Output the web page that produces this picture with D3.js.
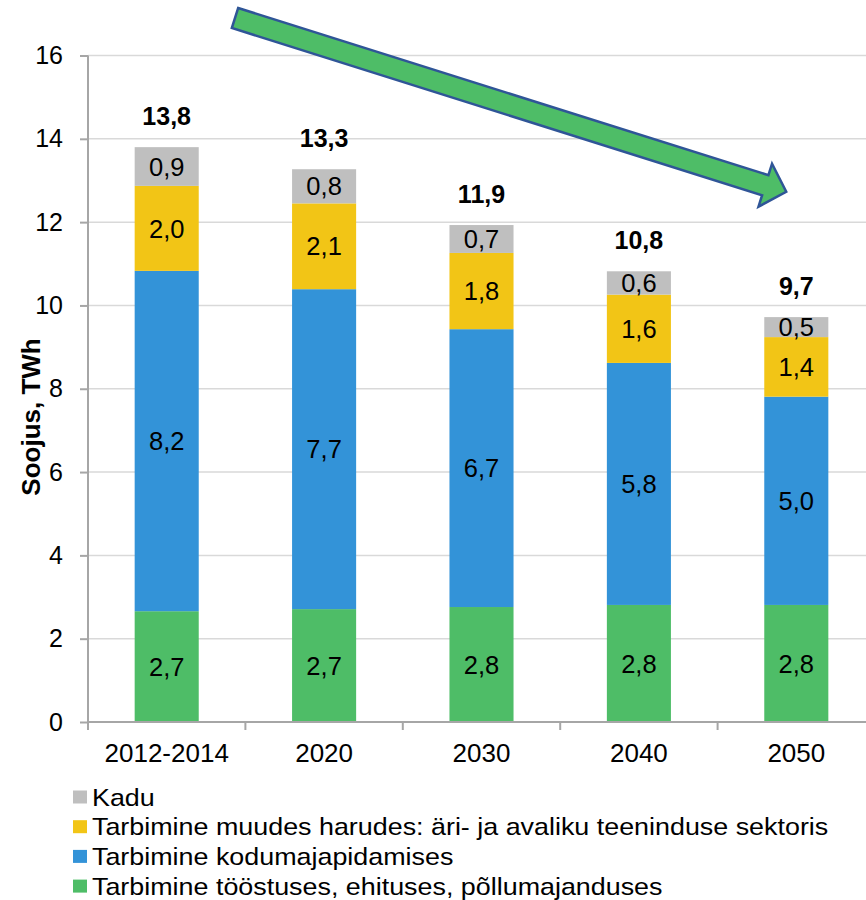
<!DOCTYPE html>
<html>
<head>
<meta charset="utf-8">
<script src="https://cdn.jsdelivr.net/npm/d3@7"></script>
<style>
	body { margin: 0; background: #fff; }
	svg { display: block; font-family: 'Liberation Sans', Arial, sans-serif; }
	.grid-line { stroke: #d9d9d9; stroke-width: 1.5; }
	.axis-line { stroke: #a6a6a6; stroke-width: 2; }
</style>
</head>
<body>
<div class="chart"></div>
<script>
// chart values
const years = ['2012-2014', '2020', '2030', '2040', '2050'];
const industry = [2.66, 2.71, 2.76, 2.81, 2.81];
const households = [8.17, 7.68, 6.67, 5.81, 5.00];
const services = [2.04, 2.06, 1.83, 1.64, 1.43];
const losses = [0.93, 0.82, 0.67, 0.56, 0.48];
const yTicks = [0, 2, 4, 6, 8, 10, 12, 14, 16];

const seriesNames = [
	'Tarbimine tööstuses, ehituses, põllumajanduses',
	'Tarbimine kodumajapidamises',
	'Tarbimine muudes harudes: äri- ja avaliku teeninduse sektoris',
	'Kadu'
];
const seriesColors = ['#4ebd67', '#3393d8', '#f2c516', '#bfbfbf'];

const width = 866, height = 900;
const margin = { top: 55.5, left: 88, bottom: 178 };

let svg = d3.select('.chart').append('svg')
	.attr('width', width)
	.attr('height', height);

svg.append('rect').attr('width', width).attr('height', height).attr('fill', '#fff');

//scales
let x = d3.scaleBand()
	.domain(years)
	.range([margin.left, margin.left + 5 * 157.4])
	.paddingInner(0.593)
	.paddingOuter(0.2965);

let y = d3.scaleLinear()
	.domain([0, 16])
	.range([height - margin.bottom, margin.top]);

// stack the four series
let rows = years.map((d, i) => ({
	year: d, s0: industry[i], s1: households[i], s2: services[i], s3: losses[i]
}));
let stack = d3.stack().keys(['s0', 's1', 's2', 's3']);
let layers = stack(rows);

const comma = d3.formatLocale({ decimal: ',', thousands: ' ', grouping: [3], currency: ['', ''] }).format('.1f');

//grid lines
svg.append('g').selectAll('line')
	.data(yTicks.filter(d => d > 0))
	.enter().append('line')
	.classed('grid-line', true)
	.attr('x1', margin.left).attr('x2', width)
	.attr('y1', d => y(d)).attr('y2', d => y(d));

//bars
let layerG = svg.append('g').selectAll('g')
	.data(layers)
	.enter().append('g')
	.attr('fill', (d, i) => seriesColors[i]);

layerG.selectAll('rect')
	.data(d => d)
	.enter().append('rect')
	.attr('x', d => x(d.data.year))
	.attr('width', x.bandwidth())
	.attr('y', d => y(d[1]))
	.attr('height', d => y(d[0]) - y(d[1]));

//segment labels
layerG.selectAll('text')
	.data(d => d)
	.enter().append('text')
	.attr('x', d => x(d.data.year) + x.bandwidth() / 2)
	.attr('y', d => (y(d[0]) + y(d[1])) / 2)
	.attr('dy', '0.36em')
	.attr('text-anchor', 'middle')
	.attr('fill', '#000')
	.style('font-size', '25.5px')
	.text(d => comma(d[1] - d[0]));

//totals
svg.append('g').selectAll('text')
	.data(rows)
	.enter().append('text')
	.attr('x', d => x(d.year) + x.bandwidth() / 2)
	.attr('y', d => y(d.s0 + d.s1 + d.s2 + d.s3) - 22.5)
	.attr('text-anchor', 'middle')
	.style('font-size', '25px')
	.style('font-weight', 'bold')
	.text(d => comma(d.s0 + d.s1 + d.s2 + d.s3));

//y axis
let yAxis = d3.axisLeft(y).tickValues(yTicks).tickSize(8).tickPadding(17);
let yG = svg.append('g')
	.attr('transform', 'translate(' + margin.left + ',0)')
	.call(yAxis);
yG.select('.domain').remove();
yG.selectAll('.tick line').attr('stroke', '#a6a6a6').attr('stroke-width', 2);
yG.selectAll('.tick text').style('font-size', '25px').attr('fill', '#000').attr('font-family', null);
yG.append('line').classed('axis-line', true)
	.attr('x1', 0).attr('x2', 0)
	.attr('y1', y(16)).attr('y2', y(0));

//x axis, ticks sit between the categories
let xAxis = d3.axisBottom(x).tickSize(0).tickPadding(22);
let xG = svg.append('g')
	.attr('transform', 'translate(0,' + y(0) + ')')
	.call(xAxis);
xG.select('.domain').remove();
xG.selectAll('.tick text').style('font-size', '26px').attr('fill', '#000').attr('font-family', null);
xG.append('line').classed('axis-line', true)
	.attr('x1', margin.left).attr('x2', width);
let bounds = years.map(d => x(d) + x.bandwidth() / 2 - x.step() / 2);
xG.selectAll('.bound')
	.data(bounds)
	.enter().append('line')
	.classed('axis-line bound', true)
	.attr('x1', d => d).attr('x2', d => d)
	.attr('y1', 0).attr('y2', 8);

//y title
svg.append('text')
	.attr('transform', 'translate(31,417) rotate(-90)')
	.attr('text-anchor', 'middle')
	.attr('dy', '0.36em')
	.style('font-size', '26px')
	.style('font-weight', 'bold')
	.text('Soojus, TWh');

//legend, text a bit wide
let legend = svg.append('g').attr('transform', 'translate(73,797)');
let items = legend.selectAll('g')
	.data(seriesNames.map((d, i) => ({ name: d, color: seriesColors[i] })).reverse())
	.enter().append('g')
	.attr('transform', (d, i) => 'translate(0,' + i * 29.7 + ')');
items.append('rect')
	.attr('x', 0).attr('y', -6.5)
	.attr('width', 14).attr('height', 13)
	.attr('fill', d => d.color);
items.append('text')
	.attr('transform', 'translate(19,0) scale(1.12,1)')
	.attr('dy', '0.36em')
	.style('font-size', '24px')
	.text(d => d.name);

//trend arrow
let arrow = svg.append('g').attr('transform', 'translate(235,18) rotate(17.5)');
const len = 578, head = 22, shaftW = 10.5, headW = 22.5;
arrow.append('path')
	.attr('d', d3.line()([[0, -shaftW], [len - head, -shaftW], [len - head, -headW], [len, 0],
		[len - head, headW], [len - head, shaftW], [0, shaftW]]) + 'Z')
	.attr('fill', '#4ebd67')
	.attr('stroke', '#2f5597')
	.attr('stroke-width', 2.5)
	.attr('stroke-linejoin', 'miter');
</script>
</body>
</html>
